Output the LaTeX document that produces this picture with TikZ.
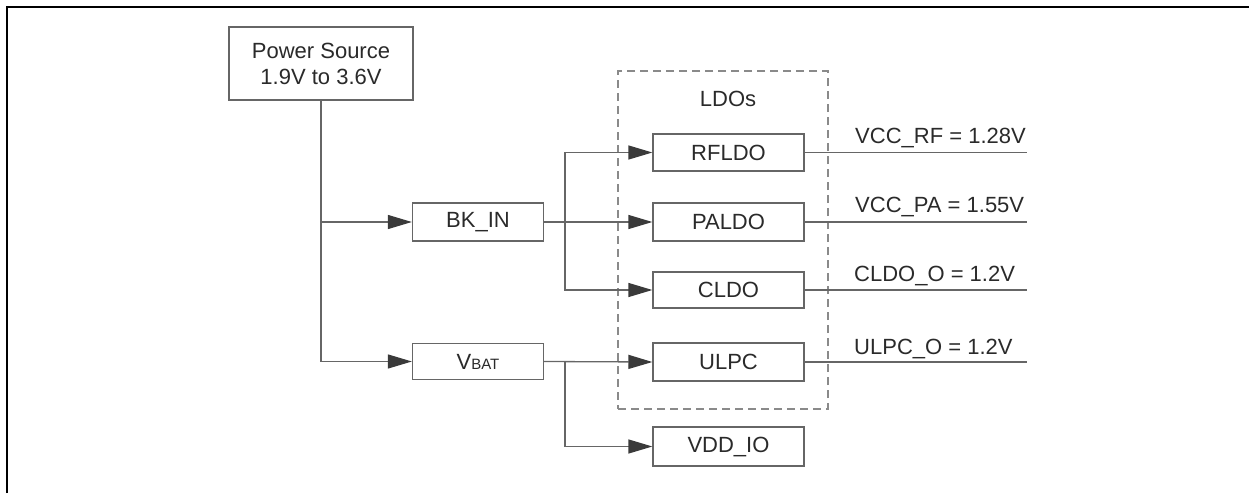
\documentclass[tikz,border=0pt]{standalone}
\usepackage{fontspec}
\setmainfont{Liberation Sans}
\usetikzlibrary{arrows.meta}
\definecolor{txt}{HTML}{2A2A2A}
\definecolor{edge}{HTML}{666666}
\definecolor{tip}{HTML}{3A3A3A}
\definecolor{dash}{HTML}{8A8A8A}
\begin{document}
\begin{tikzpicture}[x=1pt,y=-1pt,
  blk/.style={draw=edge, line width=1.3pt, fill=white, text=txt, inner sep=0pt,
    minimum width=151pt, minimum height=37pt, font=\fontsize{22}{26}\selectfont},
  wire/.style={draw=edge, line width=1.3pt},
  arr/.style={wire, -{Triangle[length=24pt,width=14pt,fill=tip,color=tip]}},
  lbl/.style={text=txt, inner sep=0pt, anchor=base west, font=\fontsize{22}{26}\selectfont},
  grpbox/.style={draw=dash, line width=1.4pt, dash pattern=on 8pt off 5pt, inner sep=0pt,
    minimum width=210pt, minimum height=338pt}
]
\useasboundingbox (0,0) rectangle (1249,493);
% frame
\draw[black, line width=2pt] (6.5,493) -- (6.5,6.5) -- (1249,6.5);

% LDO group
\node[grpbox] (grp) at (723,240) {};
\node[lbl, anchor=base] (ldos) at (728,106) {LDOs};

% blocks
\node[blk, minimum width=184pt, minimum height=73pt, align=center] (ps) at (321,63.5) {Power Source\\1.9V to 3.6V};
\node[blk, minimum width=131pt, minimum height=38pt] (bkin) at (478,222) {BK\_IN};
\node[blk, minimum width=131pt, minimum height=36pt] (vbat) at (478,361.5) {V{\fontsize{15}{18}\selectfont BAT}};
\node[blk] (rf) at (728.5,152.5) {RFLDO};
\node[blk, minimum height=38pt] (pa) at (728.5,222) {PALDO};
\node[blk, minimum height=36pt] (cl) at (728.5,290) {CLDO};
\node[blk, minimum height=38pt] (ulpc) at (728.5,362) {ULPC};
\node[blk, minimum height=39pt] (vdd) at (728.5,446.5) {VDD\_IO};

% trunk from power source
\draw[arr] (ps.south) |- (bkin.west);
\draw[arr] (ps.south) |- (vbat.west);

% BK_IN branches
\coordinate (j1) at (565,222);
\draw[arr] (bkin.east) -- (pa.west);
\draw[arr] (j1) |- (rf.west);
\draw[arr] (j1) |- (cl.west);

% VBAT branches
\coordinate (j2) at (565,361.5);
\draw[arr] (vbat.east) -- (ulpc.west);
\draw[arr] (j2) |- (vdd.west);

% outputs
\coordinate (e1) at (1027,152.5);
\coordinate (e2) at (1027,222);
\coordinate (e3) at (1027,290);
\coordinate (e4) at (1027,362);
\draw[wire] (rf.east) -- (e1);
\draw[wire] (pa.east) -- (e2);
\draw[wire] (cl.east) -- (e3);
\draw[wire] (ulpc.east) -- (e4);

\node[lbl] (l1) at (855,143) {VCC\_RF = 1.28V};
\node[lbl] (l2) at (855,212) {VCC\_PA = 1.55V};
\node[lbl] (l3) at (854,281) {CLDO\_O = 1.2V};
\node[lbl] (l4) at (854,354) {ULPC\_O = 1.2V};
\end{tikzpicture}
\end{document}
